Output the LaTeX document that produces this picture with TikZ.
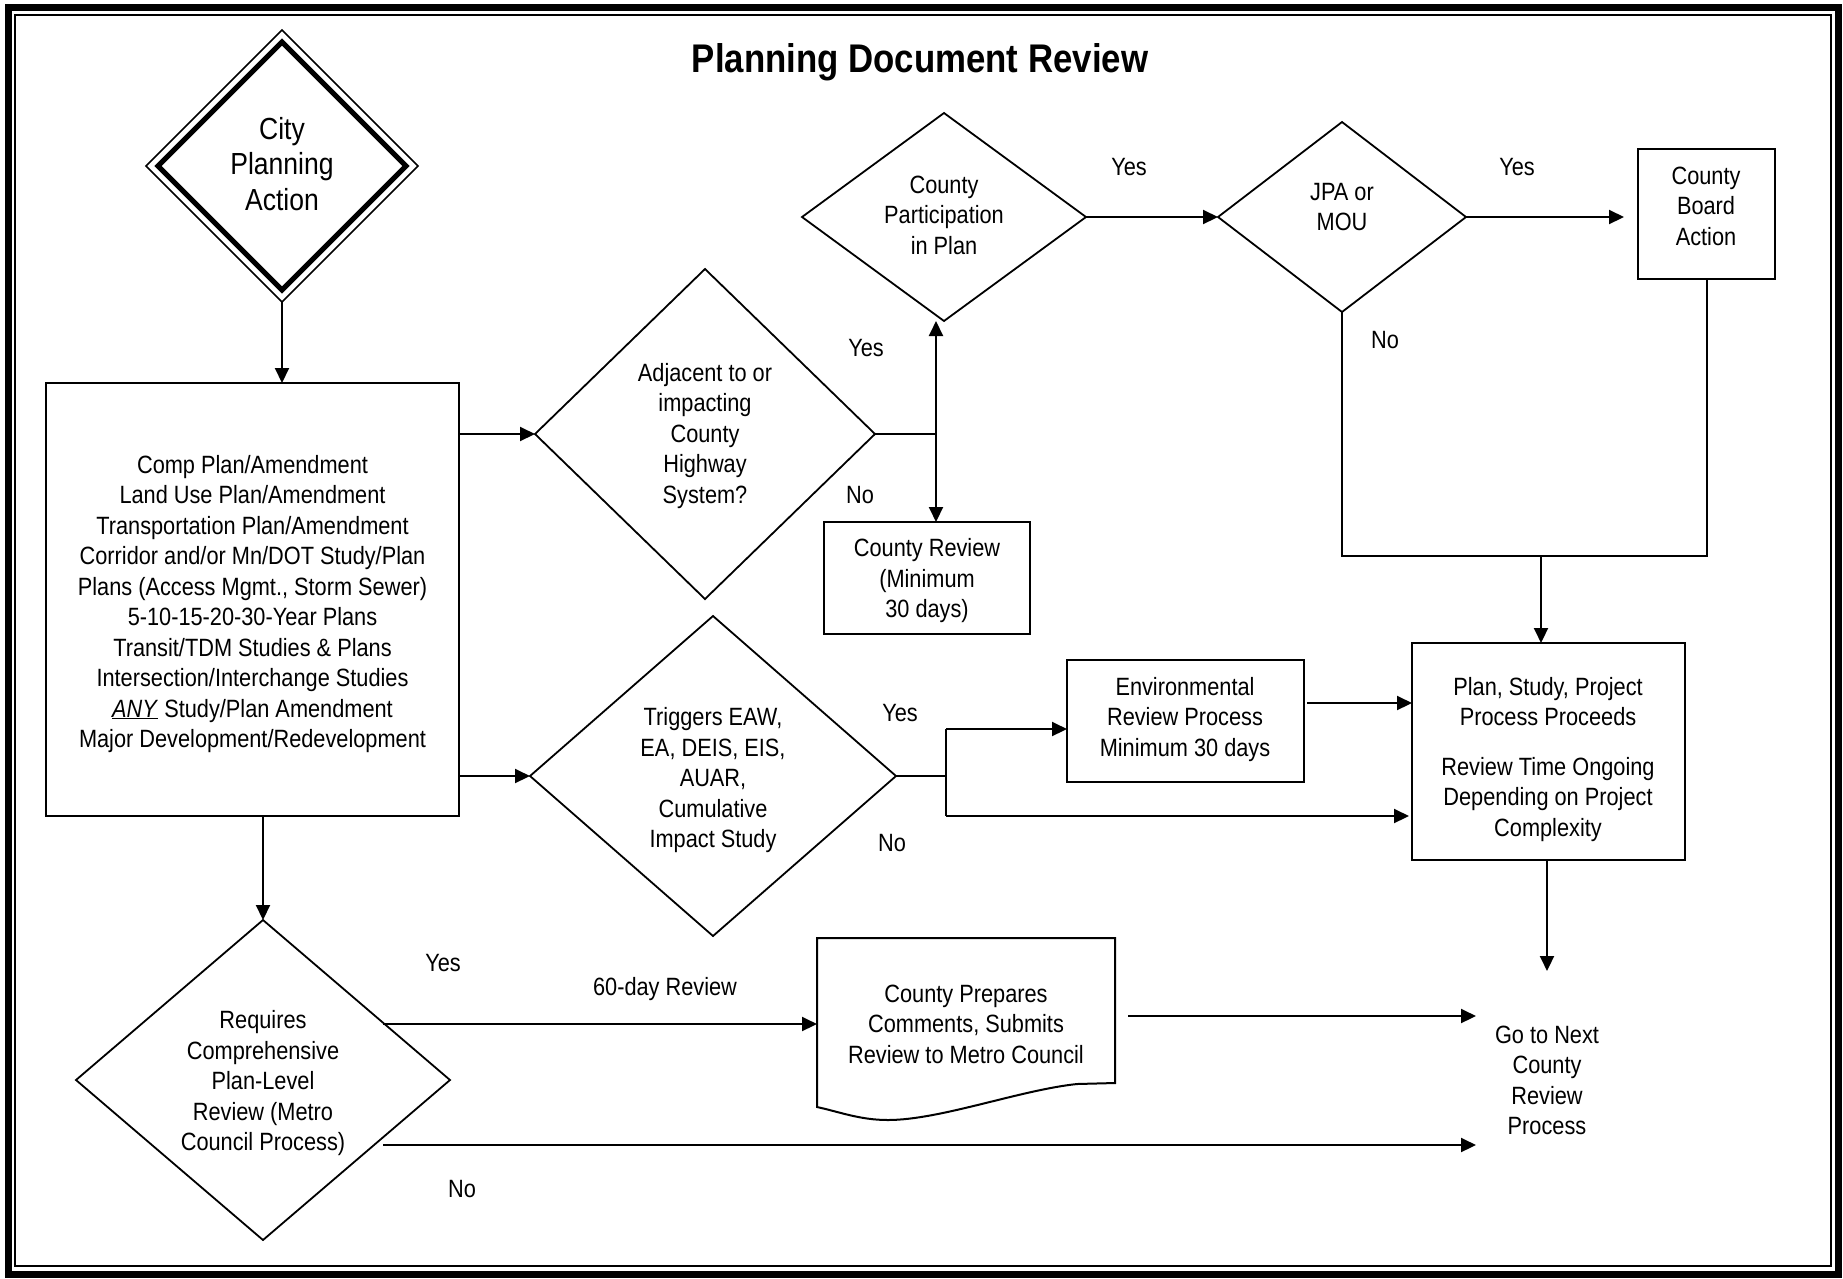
\documentclass[tikz,border=0pt]{standalone}
\usepackage{fontspec}
\setmainfont{Liberation Sans}[FakeStretch=0.87]
\usetikzlibrary{shapes.geometric,arrows.meta,calc}
\begin{document}
\begin{tikzpicture}[x=1pt,y=-1pt,
  ln/.style={line width=2pt},
  arr/.style={line width=2pt,-{Triangle[length=15pt,width=14pt]}},
  box/.style={draw,line width=2pt,rectangle,inner sep=0pt,outer sep=0pt},
  dia/.style={draw,line width=1.8pt,diamond,inner sep=0pt,outer sep=0pt},
  txt/.style={align=center,inner sep=0pt,font=\fontsize{25}{30.5}\selectfont},
  lbl/.style={inner sep=0pt,font=\fontsize{25}{30.5}\selectfont}]
\useasboundingbox (0,0) rectangle (1843,1278);
\fill[white] (0,0) rectangle (1843,1278);
% frame
\draw[line width=7pt] (8,7.5) rectangle (1838.5,1274);
\draw[line width=2pt] (15,14.5) rectangle (1831,1265.5);
% title
\node[inner sep=0pt,font=\fontsize{40}{48}\selectfont\bfseries] (title) at (920,62) {Planning Document Review};
% city planning action
\node[dia,line width=1.5pt,minimum width=272,minimum height=272] (cpa) at (282,166) {};
\node[dia,line width=5pt,minimum width=248,minimum height=248] (cpai) at (282,166) {};
\node[align=center,inner sep=0pt,font=\fontsize{30.5}{35.5}\selectfont] (cpat) at (282,164) {City\\Planning\\Action};
% big box
\node[box,minimum width=413,minimum height=433] (big) at (252.5,599.5) {};
\node[txt] (bigt) at (252.5,604) {Comp Plan/Amendment\\Land Use Plan/Amendment\\Transportation Plan/Amendment\\Corridor and/or Mn/DOT Study/Plan\\Plans (Access Mgmt., Storm Sewer)\\5-10-15-20-30-Year Plans\\Transit/TDM Studies \& Plans\\Intersection/Interchange Studies\\\underline{\textit{ANY}} Study/Plan Amendment\\Major Development/Redevelopment};
% adjacent diamond
\node[dia,minimum width=340,minimum height=330] (adj) at (705,434) {};
\node[txt] (adjt) at (705,436) {Adjacent to or\\impacting\\County\\Highway\\System?};
% county participation
\node[dia,minimum width=284,minimum height=208] (cp) at (944,217) {};
\node[txt] (cpt) at (944,215) {County\\Participation\\in Plan};
% JPA
\node[dia,minimum width=248,minimum height=190] (jpa) at (1342,217) {};
\node[txt] (jpat) at (1342,207) {JPA or\\MOU};
% county board action
\node[box,minimum width=137,minimum height=130] (cba) at (1706.5,214) {};
\node[txt] (cbat) at (1706,206) {County\\Board\\Action};
% county review
\node[box,minimum width=206,minimum height=112] (crev) at (927,578) {};
\node[txt] (crevt) at (927,581) {County Review\\(Minimum\\30 days)};
% triggers
\node[dia,minimum width=366,minimum height=320] (trg) at (713,776) {};
\node[txt] (trgt) at (713,780.5) {Triggers EAW,\\EA, DEIS, EIS,\\AUAR,\\Cumulative\\Impact Study};
% environmental
\node[box,minimum width=237,minimum height=122] (env) at (1185.5,721) {};
\node[txt] (envt) at (1185,719.5) {Environmental\\Review Process\\Minimum 30 days};
% plan proceeds
\node[box,minimum width=273,minimum height=217] (plan) at (1548.5,751.5) {};
\node[txt] (plant) at (1548,759.5) {Plan, Study, Project\\Process Proceeds\\[19pt]Review Time Ongoing\\Depending on Project\\Complexity};
% go to next
\node[txt] (go) at (1547,1080.5) {Go to Next\\County\\Review\\Process};
% document shape
\node[inner sep=0pt,outer sep=0pt,minimum width=298,minimum height=169] (doc) at (966,1022.5) {};
\draw[ln] (doc.north west) -- (doc.north east) -- (1115,1083) -- (1077,1084)
  .. controls (1020,1090) and (940,1120) .. (888,1120)
  .. controls (860,1120) and (840,1112) .. (doc.south west) -- cycle;
\node[txt] (doct) at (966,1024) {County Prepares\\Comments, Submits\\Review to Metro Council};
% requires
\node[dia,minimum width=374,minimum height=320] (req) at (263,1080) {};
\node[txt] (reqt) at (263,1083.5) {Requires\\Comprehensive\\Plan-Level\\Review (Metro\\Council Process)};
% coordinates
\coordinate (j1) at (936,434);
\coordinate (mrg) at (1541,556);
\coordinate (j3a) at (946,729);
\coordinate (j3b) at (946,816);
\coordinate (e1) at ($(env.east)+(3,-18)$);
\coordinate (goin) at (1476,1016);
\coordinate (d1) at (1128,1016);
\coordinate (r1) at (383,1024);
\coordinate (r2) at (383,1145);
\coordinate (gotop) at (1547,971);
\coordinate (cbain) at ([xshift=-14pt]cba.west |- jpa.east);
% connectors
\draw[arr] (cpa.south) -- (cpa.south |- big.north);
\draw[arr] (big.east |- adj.west) -- (adj.west);
\draw[arr] (big.east |- trg.west) -- (trg.west);
\draw[arr] (big.south -| req.north) -- (req.north);
\draw[ln] (adj.east) -- (j1);
\draw[arr] (j1) -- (j1 |- cp.south);
\draw[arr] (j1) -- (j1 |- crev.north);
\draw[arr] (cp.east) -- (jpa.west);
\draw[arr] (jpa.east) -- (cbain);
\draw[ln] (cba.south) -- (cba.south |- mrg) -- (jpa.south |- mrg) -- (jpa.south);
\draw[arr] (mrg) -- (mrg |- plan.north);
\draw[ln] (trg.east) -- (trg.east -| j3a);
\draw[ln] (j3a) -- (j3b);
\draw[arr] (j3a) -- (j3a -| env.west);
\draw[arr] (j3b) -- ([xshift=-3pt]j3b -| plan.west);
\draw[arr] (e1) -- (e1 -| plan.west);
\draw[arr] (plan.south -| gotop) -- (gotop);
\draw[arr] (d1) -- (goin);
\draw[arr] (r1) -- (r1 -| doc.west);
\draw[arr] (r2) -- (r2 -| goin);
% labels
\node[lbl] (l1) at (866,348) {Yes};
\node[lbl] (l2) at (860,495) {No};
\node[lbl] (l3) at (1129,167) {Yes};
\node[lbl] (l4) at (1517,167) {Yes};
\node[lbl] (l5) at (1385,340) {No};
\node[lbl] (l6) at (900,713) {Yes};
\node[lbl] (l7) at (892,843) {No};
\node[lbl] (l8) at (443,963) {Yes};
\node[lbl] (l9) at (665,989) {60-day Review};
\node[lbl] (l10) at (462,1189) {No};
\end{tikzpicture}
\end{document}
